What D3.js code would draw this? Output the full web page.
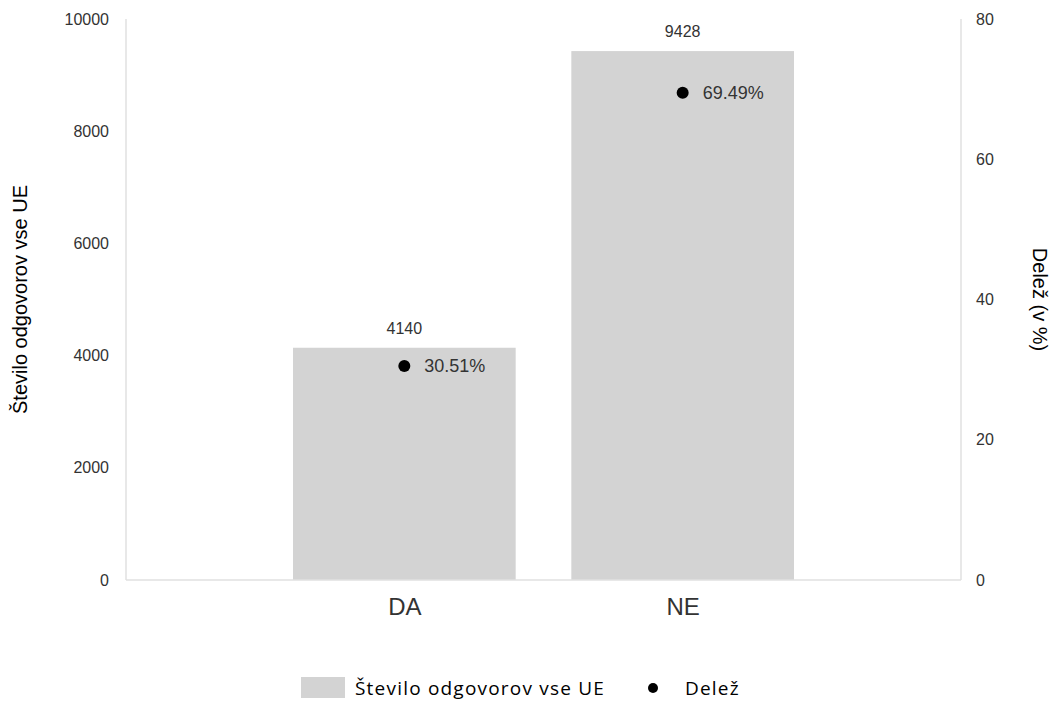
<!DOCTYPE html>
<html><head><meta charset="utf-8">
<script src="https://cdn.jsdelivr.net/npm/d3@7"></script>
<style>body{margin:0;background:#fff}</style>
</head><body>
<svg id="c" width="1056" height="704"></svg>
<script>
const categories = ["DA", "NE"];
const counts = [4140, 9428];
const shares = [30.51, 69.49];
const leftTicks = [0, 2000, 4000, 6000, 8000, 10000];
const rightTicks = [0, 20, 40, 60, 80];
const barLabel = "Število odgovorov vse UE";
const shareLabel = "Delež";
const leftTitle = "Število odgovorov vse UE";
const rightTitle = "Delež (v %)";

const svg = d3.select("#c");
const m = {l:126, r:961, t:19, b:580};
const txt = "#333";
const font = "Liberation Sans, Arial, sans-serif";

const x = d3.scalePoint().domain(categories).range([m.l, m.r]).padding(1);
const bw = x.step() * 0.8;
const yL = d3.scaleLinear().domain([0, 10000]).range([m.b, m.t]);
const yR = d3.scaleLinear().domain([0, 80]).range([m.b, m.t]);

// bars
svg.selectAll("rect.bar").data(categories).enter().append("rect")
  .attr("x", d => x(d) - bw/2).attr("y", (d,i) => yL(counts[i]))
  .attr("width", bw).attr("height", (d,i) => m.b - yL(counts[i]))
  .attr("fill", "#d3d3d3");

// axes lines
const axisCol = "#e0e0e0";
svg.append("line").attr("x1", m.l).attr("x2", m.l).attr("y1", m.t).attr("y2", m.b).attr("stroke", axisCol).attr("stroke-width", 1.5);
svg.append("line").attr("x1", m.r).attr("x2", m.r).attr("y1", m.t).attr("y2", m.b).attr("stroke", axisCol).attr("stroke-width", 1.5);
svg.append("line").attr("x1", m.l).attr("x2", m.r).attr("y1", m.b).attr("y2", m.b).attr("stroke", axisCol).attr("stroke-width", 1.5);

// left ticks
const gl = svg.append("g").attr("transform", `translate(${m.l},0)`)
  .call(d3.axisLeft(yL).tickValues(leftTicks).tickSize(0).tickPadding(17).tickFormat(d3.format("d")));
gl.select(".domain").remove();
gl.selectAll("text").attr("font-family", font).attr("font-size", 16).attr("fill", txt);

const gr = svg.append("g").attr("transform", `translate(${m.r},0)`)
  .call(d3.axisRight(yR).tickValues(rightTicks).tickSize(0).tickPadding(15).tickFormat(d3.format("d")));
gr.select(".domain").remove();
gr.selectAll("text").attr("font-family", font).attr("font-size", 16).attr("fill", txt);

const gx = svg.append("g").attr("transform", `translate(0,${m.b})`)
  .call(d3.axisBottom(x).tickSize(0).tickPadding(18));
gx.select(".domain").remove();
gx.selectAll("text").attr("font-family", font).attr("font-size", 24).attr("fill", txt);

// bar labels
svg.selectAll("text.bl").data(categories).enter().append("text")
  .attr("x", d => x(d)).attr("y", (d,i) => yL(counts[i]) - 14)
  .attr("text-anchor", "middle").attr("font-family", font).attr("font-size", 16).attr("fill", txt)
  .text((d,i) => counts[i]);

// dots
svg.selectAll("circle.pt").data(categories).enter().append("circle")
  .attr("cx", d => x(d)).attr("cy", (d,i) => yR(shares[i])).attr("r", 6).attr("fill", "#000");
svg.selectAll("text.pl").data(categories).enter().append("text")
  .attr("x", d => x(d) + 20).attr("y", (d,i) => yR(shares[i]) + 6)
  .attr("font-family", font).attr("font-size", 18).attr("fill", txt)
  .text((d,i) => shares[i].toFixed(2) + "%");

// axis titles
svg.append("text").attr("transform", `translate(27,${(m.t+m.b)/2}) rotate(-90)`)
  .attr("text-anchor", "middle").attr("font-family", font).attr("font-size", 20).attr("fill", "#000").text(leftTitle);
svg.append("text").attr("transform", `translate(1033,${(m.t+m.b)/2}) rotate(90)`)
  .attr("text-anchor", "middle").attr("font-family", font).attr("font-size", 20).attr("fill", "#000").text(rightTitle);

// legend
const lg = svg.append("g");
lg.append("rect").attr("x", 301).attr("y", 677).attr("width", 44).attr("height", 21).attr("fill", "#d3d3d3");
lg.append("text").attr("x", 355).attr("y", 695).attr("font-family", "Open Sans, sans-serif").attr("font-size", 19).attr("letter-spacing", 1.2).attr("fill", "#000").text(barLabel);
lg.append("circle").attr("cx", 653).attr("cy", 688).attr("r", 5).attr("fill", "#000");
lg.append("text").attr("x", 685).attr("y", 695).attr("font-family", "Open Sans, sans-serif").attr("font-size", 19).attr("letter-spacing", 1.2).attr("fill", "#000").text(shareLabel);
</script>
</body></html>
